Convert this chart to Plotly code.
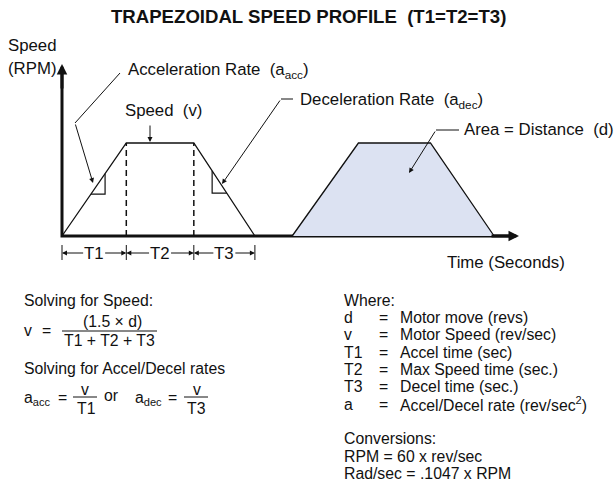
import plotly.graph_objects as go

# ---------------- data ----------------
profile_t = [0.0, 1.0, 2.05, 3.0]      # time (s): start, end of T1, end of T2, end of T3
profile_v = [0.0, 1.0, 1.0, 0.0]       # speed (normalised)
area_t = [3.58, 4.61, 5.73, 6.72]      # second profile (area = distance)
area_v = [0.0, 1.0, 1.0, 0.0]
phase_labels = ["T1", "T2", "T3"]

# ---------------- layout helpers ----------------
W, H = 614, 482
OX, OY = 62, 236          # pixel position of the origin
SX, SY = 64.3, 93.0       # pixels per data unit


def X(px):
    return (px - OX) / SX


def Y(py):
    return (OY - py) / SY


def PX(px):
    return px / W


def PY(py):
    return 1 - py / H


NARROW = "Liberation Sans, Arial, Helvetica, sans-serif"
REG = "Liberation Sans, Arial, Helvetica, sans-serif"
NS = 16.8
RS = 15.8
BLACK = "#111111"

fig = go.Figure()

# axes (L shape)
fig.add_trace(go.Scatter(x=[0, 0, X(510)], y=[Y(72), 0, 0], mode="lines",
                         line=dict(color=BLACK, width=3), hoverinfo="skip"))

# profile 1
fig.add_trace(go.Scatter(x=profile_t, y=profile_v, mode="lines",
                         line=dict(color=BLACK, width=1.3), hoverinfo="skip"))
# dashed separators
fig.add_trace(go.Scatter(x=[profile_t[1], profile_t[1], None, profile_t[2], profile_t[2]],
                         y=[0, profile_v[1], None, 0, profile_v[2]], mode="lines",
                         line=dict(color=BLACK, width=1.5, dash="6px,4px"), hoverinfo="skip"))


# right-angle slope marks
def interp(t, ts, vs):
    for i in range(len(ts) - 1):
        if ts[i] <= t <= ts[i + 1]:
            f = (t - ts[i]) / (ts[i + 1] - ts[i])
            return vs[i] + f * (vs[i + 1] - vs[i])
    return 0


a0, a1 = 0.45 * profile_t[1], 0.67 * profile_t[1]
va0, va1 = interp(a0, profile_t, profile_v), interp(a1, profile_t, profile_v)
d0 = profile_t[2] + 0.30 * (profile_t[3] - profile_t[2])
d1 = profile_t[2] + 0.54 * (profile_t[3] - profile_t[2])
vd0, vd1 = interp(d0, profile_t, profile_v), interp(d1, profile_t, profile_v)
fig.add_trace(go.Scatter(x=[a0, a1, a1, None, d0, d0, d1],
                         y=[va0, va0, va1, None, vd0, vd1, vd1], mode="lines",
                         line=dict(color=BLACK, width=1.2), hoverinfo="skip"))

# profile 2 (filled area)
fig.add_trace(go.Scatter(x=area_t, y=area_v, mode="lines", fill="toself",
                         fillcolor="#dce2f2", line=dict(color=BLACK, width=1.3),
                         hoverinfo="skip"))

# leader lines (non-arrow parts)
fig.add_trace(go.Scatter(x=[X(120), X(75), None, X(293), X(281), None, X(459), X(436)],
                         y=[Y(73), Y(123), None, Y(99), Y(99), None, Y(130), Y(130)],
                         mode="lines", line=dict(color=BLACK, width=1), hoverinfo="skip"))

# dimension ticks
tx, ty = [], []
for t in profile_t:
    tx += [t, t, None]
    ty += [Y(245), Y(260), None]
fig.add_trace(go.Scatter(x=tx, y=ty, mode="lines", line=dict(color=BLACK, width=1),
                         hoverinfo="skip"))

ann = []


def arrow(x0, y0, x1, y1, w=1, size=1.0):
    ann.append(dict(x=x1, y=y1, ax=x0, ay=y0, xref="x", yref="y", axref="x", ayref="y",
                    text="", showarrow=True, arrowhead=2, arrowsize=size, arrowwidth=w,
                    arrowcolor=BLACK))


def txt(s, px, py, size=RS, font=REG, xa="left", ya="middle", bold=False):
    if bold:
        s = "<b>" + s + "</b>"
    ann.append(dict(x=PX(px), y=PY(py), xref="paper", yref="paper", text=s, showarrow=False,
                    xanchor=xa, yanchor=ya, font=dict(family=font, size=size, color=BLACK)))


# axis arrows
arrow(0, Y(90), 0, Y(64), w=3, size=0.7)
arrow(X(490), 0, X(519), 0, w=3, size=0.7)

# leader arrows
arrow(X(75), Y(123), X(93), Y(183))
arrow(X(281), Y(99), X(222), Y(184))
arrow(X(436), Y(130), X(409), Y(173))
arrow(X(150), Y(124), X(150), Y(142))

# dimension arrows
ydim = Y(253)
hw = 9.5 / SX
for i, lab in enumerate(phase_labels):
    t0, t1 = profile_t[i], profile_t[i + 1]
    m = (t0 + t1) / 2
    arrow(m - hw, ydim, t0, ydim)
    arrow(m + hw, ydim, t1, ydim)
    ann.append(dict(x=m, y=ydim, xref="x", yref="y", text=lab, showarrow=False,
                    xanchor="center", yanchor="middle",
                    font=dict(family=NARROW, size=NS, color=BLACK)))

# diagram labels
txt("TRAPEZOIDAL SPEED PROFILE \u00a0(T1=T2=T3)", 308, 17, size=18.6, font=NARROW,
    xa="center", bold=True)
txt("Speed", 6, 45, size=NS, font=NARROW)
txt("(RPM)", 6, 69, size=NS, font=NARROW)
txt("Acceleration Rate \u00a0(a<sub>acc</sub>)", 126, 70, size=NS, font=NARROW)
txt("Speed \u00a0(v)", 123, 111, size=NS, font=NARROW)
txt("Deceleration Rate \u00a0(a<sub>dec</sub>)", 298, 100, size=NS, font=NARROW)
txt("Area = Distance \u00a0(d)", 462, 130, size=NS, font=NARROW)
txt("Time (Seconds)", 567, 262, size=NS, font=NARROW, xa="right")

# left formulas
txt("Solving for Speed:", 22, 300)
txt("v", 22, 330)
txt("=", 46, 330, xa="center")
txt("(1.5 \u00d7 d)", 112, 321, xa="center")
txt("T1 + T2 + T3", 109, 340, xa="center")
txt("Solving for Accel/Decel rates", 22, 368)
txt("a<sub>acc</sub>", 22, 398)
txt("=", 62, 397, xa="center")
txt("v", 85, 389, xa="center")
txt("T1", 86, 408, xa="center")
txt("or", 111, 395, xa="center")
txt("a<sub>dec</sub>", 133, 398)
txt("=", 172, 397, xa="center")
txt("v", 197, 389, xa="center")
txt("T3", 197, 408, xa="center")

shapes = []
for x0, x1, yy in [(62, 157, 331), (73, 97, 397), (184, 208, 397)]:
    shapes.append(dict(type="line", xref="paper", yref="paper", x0=PX(x0), x1=PX(x1),
                       y0=PY(yy), y1=PY(yy), line=dict(color=BLACK, width=1)))

# right block
rows = [("d", "Motor move (revs)"), ("v", "Motor Speed (rev/sec)"),
        ("T1", "Accel time (sec)"), ("T2", "Max Speed time (sec.)"),
        ("T3", "Decel time (sec.)"), ("a", "Accel/Decel rate (rev/sec<sup>2</sup>)")]
txt("Where:", 342, 300)
ys = [317, 334.5, 352, 369, 386.5, 404]
for (k, v), yy in zip(rows, ys):
    txt(k, 342, yy)
    txt("=", 383, yy, xa="center")
    txt(v, 398, yy)
txt("Conversions:", 342, 438)
txt("RPM = 60 x rev/sec", 342, 456)
txt("Rad/sec = .1047 x RPM", 342, 473)

fig.update_layout(
    width=W, height=H, margin=dict(l=0, r=0, t=0, b=0),
    paper_bgcolor="white", plot_bgcolor="white", showlegend=False,
    xaxis=dict(range=[X(0), X(W)], visible=False, fixedrange=True),
    yaxis=dict(range=[Y(H), Y(0)], visible=False, fixedrange=True),
    annotations=ann, shapes=shapes,
)

fig.write_html("out.html", config={"displayModeBar": False},
               post_script="document.body.style.margin='0';document.body.style.overflow='hidden';")
